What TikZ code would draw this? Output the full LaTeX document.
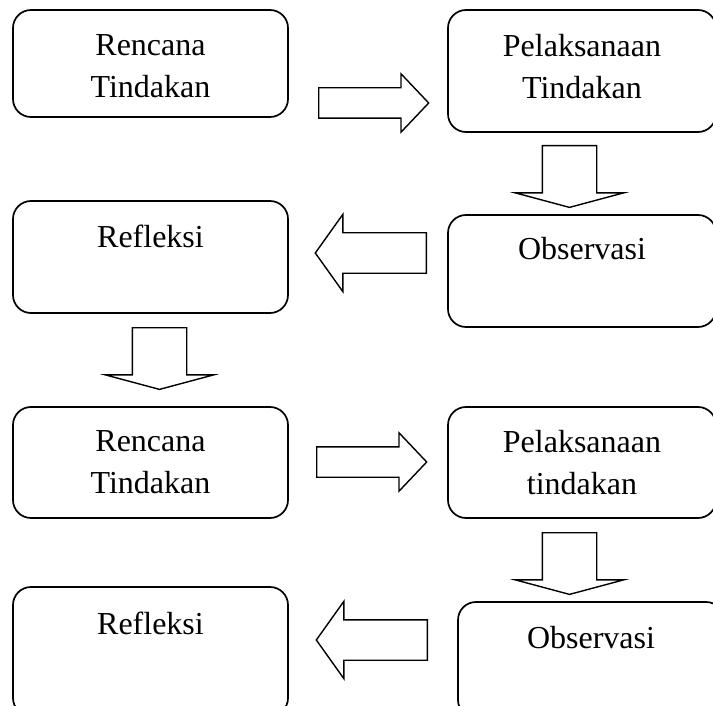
\documentclass[tikz,border=0pt]{standalone}
\usepackage{fontspec}
\setmainfont{Liberation Serif}
\usetikzlibrary{positioning,shapes.arrows}

\begin{document}
\begin{tikzpicture}[
	x=1pt, y=-1pt,
	box/.style={draw, rounded corners=18pt, line width=1.7pt, inner sep=0pt},
	lbl/.style={align=center, inner sep=0pt, font=\fontsize{32}{42}\selectfont},
	blockarrow/.style={draw, single arrow, single arrow head indent=0pt, line width=1.4pt, anchor=tail},
	rarrow/.style={blockarrow, inner sep=14.5pt, single arrow head extend=14pt, single arrow tip angle=93, minimum height=110pt},
	larrow/.style={blockarrow, shape border rotate=180, inner sep=19.5pt, single arrow head extend=18.5pt, single arrow tip angle=109, minimum height=111pt},
	darrow/.style={blockarrow, shape border rotate=270, inner sep=26.5pt, single arrow head extend=27pt, single arrow tip angle=150, minimum height=56pt}
]
\useasboundingbox (0,0) rectangle (713,706);
\clip (0,0) rectangle (713,706);

% first cycle
\node[box, minimum width=275pt, minimum height=107pt] (rencanaA) at (150.5,63.5) {};
\node[box, minimum width=268pt, minimum height=122pt] (pelaksanaanA) at (582,71) {};
\node[box, minimum width=268pt, minimum height=112pt] (observasiA) at (582,271) {};
\node[box, minimum width=275pt, minimum height=112pt] (refleksiA) at (150.5,257) {};

\node[lbl, below=25pt of rencanaA.north] (rencanaA-t) {Rencana\\Tindakan};
\node[lbl, below=25pt of pelaksanaanA.north] (pelaksanaanA-t) {Pelaksanaan\\Tindakan};
\node[lbl, below=23pt of observasiA.north] (observasiA-t) {Observasi};
\node[lbl, below=25pt of refleksiA.north] (refleksiA-t) {Refleksi};

% second cycle
\node[box, minimum width=275pt, minimum height=111pt] (rencanaB) at (150.5,462.5) {};
\node[box, minimum width=268pt, minimum height=111pt] (pelaksanaanB) at (582,462.5) {};
\node[box, minimum width=266pt, minimum height=116pt] (observasiB) at (591,660) {};
\node[box, minimum width=275pt, minimum height=129pt] (refleksiB) at (150.5,651.5) {};

\node[lbl, below=24pt of rencanaB.north] (rencanaB-t) {Rencana\\Tindakan};
\node[lbl, below=24pt of pelaksanaanB.north] (pelaksanaanB-t) {Pelaksanaan\\tindakan};
\node[lbl, below=25pt of observasiB.north] (observasiB-t) {Observasi};
\node[lbl, below=26pt of refleksiB.north] (refleksiB-t) {Refleksi};

% block arrows
\node[rarrow] (arrA) at (318,103) {};
\node[darrow] (arrB) at (569.5,145) {};
\node[larrow] (arrC) at (427,253) {};
\node[darrow] (arrD) at (159.5,327) {};
\node[rarrow] (arrE) at (316,462) {};
\node[darrow] (arrF) at (569.5,532) {};
\node[larrow] (arrG) at (428,640) {};
\end{tikzpicture}
\end{document}
